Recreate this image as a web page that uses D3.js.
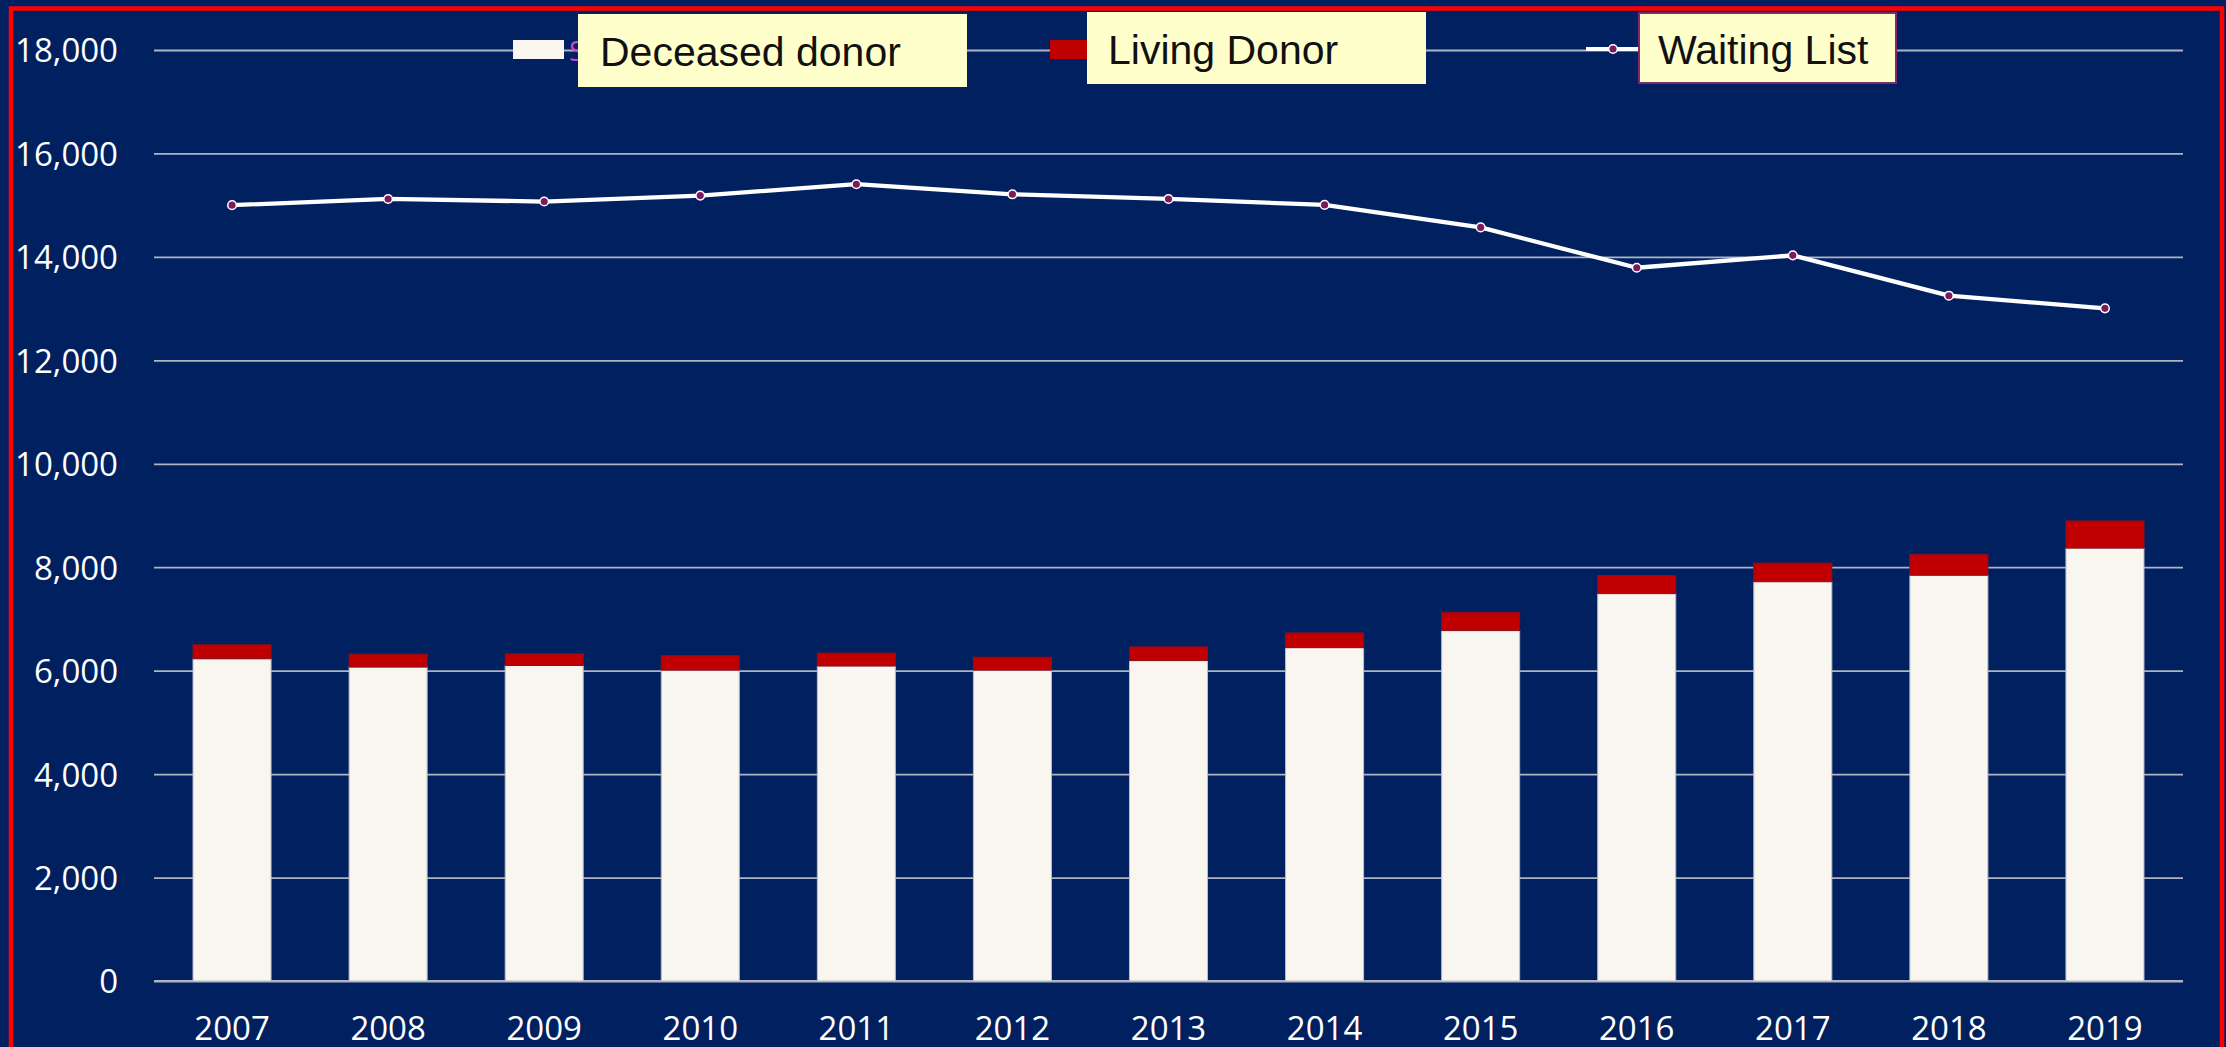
<!DOCTYPE html>
<html>
<head>
<meta charset="utf-8">
<script src="https://cdn.jsdelivr.net/npm/d3@7"></script>
<style>
  html, body { margin: 0; padding: 0; background: #002060; overflow: hidden; }
  svg { display: block; }
</style>
</head>
<body>
<svg id="chart" width="2226" height="1047"></svg>
<script>
const years = ["2007","2008","2009","2010","2011","2012","2013","2014","2015","2016","2017","2018","2019"];
const deceased = [6230, 6070, 6100, 6010, 6090, 6010, 6195, 6445, 6775, 7490, 7720, 7845, 8370];
const living   = [270, 250, 225, 280, 250, 250, 265, 285, 355, 350, 360, 405, 525];
const waiting  = [15000, 15120, 15070, 15185, 15405, 15210, 15120, 15005, 14570, 13790, 14030, 13250, 13005];
const yTicks = [0, 2000, 4000, 6000, 8000, 10000, 12000, 14000, 16000, 18000];
const legendLabels = ["Deceased donor", "Living Donor", "Waiting List"];

const W = 2226, H = 1047;
const svg = d3.select("#chart");
const navy = "#002060";

svg.append("rect").attr("x", 0).attr("y", 0).attr("width", W).attr("height", H).attr("fill", navy);

const x = d3.scaleBand().domain(years).range([154, 2183]).paddingInner(0.5).paddingOuter(0.25);
const y = d3.scaleLinear().domain([0, 18000]).range([981, 50]);

// gridlines
const grid = svg.append("g")
  .attr("transform", "translate(154,0)")
  .call(d3.axisLeft(y).tickValues(yTicks).tickSize(-(2183 - 154)).tickFormat(""));
grid.select(".domain").remove();
grid.selectAll("line").attr("stroke", "#AEB4C2").attr("stroke-width", 1.8);

// y labels
const yAxis = svg.append("g")
  .attr("transform", "translate(118,0)")
  .call(d3.axisLeft(y).tickValues(yTicks).tickSize(0).tickPadding(0).tickFormat(d3.format(",")));
yAxis.select(".domain").remove();
yAxis.selectAll("text")
  .attr("fill", "#FFFFFF")
  .attr("font-family", "'Open Sans', 'Liberation Sans', sans-serif")
  .attr("font-size", 33)
  .attr("dy", "0.36em");

// x labels
const xAxis = svg.append("g")
  .attr("transform", "translate(0,981)")
  .call(d3.axisBottom(x).tickSize(0).tickPadding(0));
xAxis.select(".domain").remove();
xAxis.selectAll("text")
  .attr("fill", "#FFFFFF")
  .attr("font-family", "'Open Sans', 'Liberation Sans', sans-serif")
  .attr("font-size", 33)
  .attr("dy", 0)
  .attr("y", 59);

// baseline
svg.append("line").attr("x1", 154).attr("x2", 2183).attr("y1", y(0)).attr("y2", y(0))
  .attr("stroke", "#AEB4C2").attr("stroke-width", 1.8);

// bars
const barData = years.map((yr, i) => ({ yr, dec: deceased[i], liv: living[i] }));
svg.append("g").selectAll("rect").data(barData).join("rect")
  .attr("x", d => x(d.yr)).attr("width", x.bandwidth())
  .attr("y", d => y(d.dec)).attr("height", d => y(0) - y(d.dec))
  .attr("fill", "#F9F6EF").attr("stroke", "#B9BDC8").attr("stroke-width", 1);
svg.append("g").selectAll("rect").data(barData).join("rect")
  .attr("x", d => x(d.yr)).attr("width", x.bandwidth())
  .attr("y", d => y(d.dec + d.liv)).attr("height", d => y(d.dec) - y(d.dec + d.liv))
  .attr("fill", "#C00000").attr("stroke", "#8A1020").attr("stroke-width", 1);

// waiting list line
const cx = d => x(d.yr) + x.bandwidth() / 2;
const lineData = years.map((yr, i) => ({ yr, v: waiting[i] }));
svg.append("path").datum(lineData)
  .attr("d", d3.line().x(cx).y(d => y(d.v)))
  .attr("fill", "none").attr("stroke", "#FFFFFF").attr("stroke-width", 4.3).attr("stroke-linejoin", "round");
svg.append("g").selectAll("circle").data(lineData).join("circle")
  .attr("cx", cx).attr("cy", d => y(d.v)).attr("r", 4.3)
  .attr("fill", "#7B1A5C").attr("stroke", "#FFFFFF").attr("stroke-width", 1.5);

// legend
const leg = svg.append("g");
const fontLeg = "'Liberation Sans', Arial, sans-serif";
// item 1
leg.append("rect").attr("x", 513).attr("y", 40).attr("width", 51).attr("height", 19).attr("fill", "#F9F6EF");
leg.append("text").attr("x", 569).attr("y", 61).text("S")
  .attr("fill", "#CC44CC").attr("font-family", "'Open Sans', sans-serif").attr("font-size", 28);
leg.append("rect").attr("x", 578).attr("y", 14).attr("width", 389).attr("height", 73).attr("fill", "#FFFFCC");
leg.append("text").attr("x", 600).attr("y", 66).text(legendLabels[0])
  .attr("fill", "#111111").attr("font-family", fontLeg).attr("font-size", 41);
// item 2
leg.append("rect").attr("x", 1050).attr("y", 40).attr("width", 51).attr("height", 19).attr("fill", "#C00000");
leg.append("rect").attr("x", 1087).attr("y", 12).attr("width", 339).attr("height", 72).attr("fill", "#FFFFCC");
leg.append("text").attr("x", 1108).attr("y", 64).text(legendLabels[1])
  .attr("fill", "#111111").attr("font-family", fontLeg).attr("font-size", 41);
// item 3
leg.append("line").attr("x1", 1586).attr("x2", 1640).attr("y1", 49).attr("y2", 49)
  .attr("stroke", "#FFFFFF").attr("stroke-width", 4);
leg.append("circle").attr("cx", 1613).attr("cy", 49).attr("r", 4.3)
  .attr("fill", "#7B1A5C").attr("stroke", "#FFFFFF").attr("stroke-width", 1.5);
leg.append("rect").attr("x", 1639).attr("y", 13).attr("width", 257).attr("height", 70)
  .attr("fill", "#FFFFCC").attr("stroke", "#7F2A6A").attr("stroke-width", 2);
leg.append("text").attr("x", 1658).attr("y", 64).text(legendLabels[2])
  .attr("fill", "#111111").attr("font-family", fontLeg).attr("font-size", 41);

// red frame
svg.append("rect").attr("x", 11).attr("y", 8.5).attr("width", 2211).attr("height", 1100)
  .attr("fill", "none").attr("stroke", "#FF0000").attr("stroke-width", 4.5);
</script>
</body>
</html>
